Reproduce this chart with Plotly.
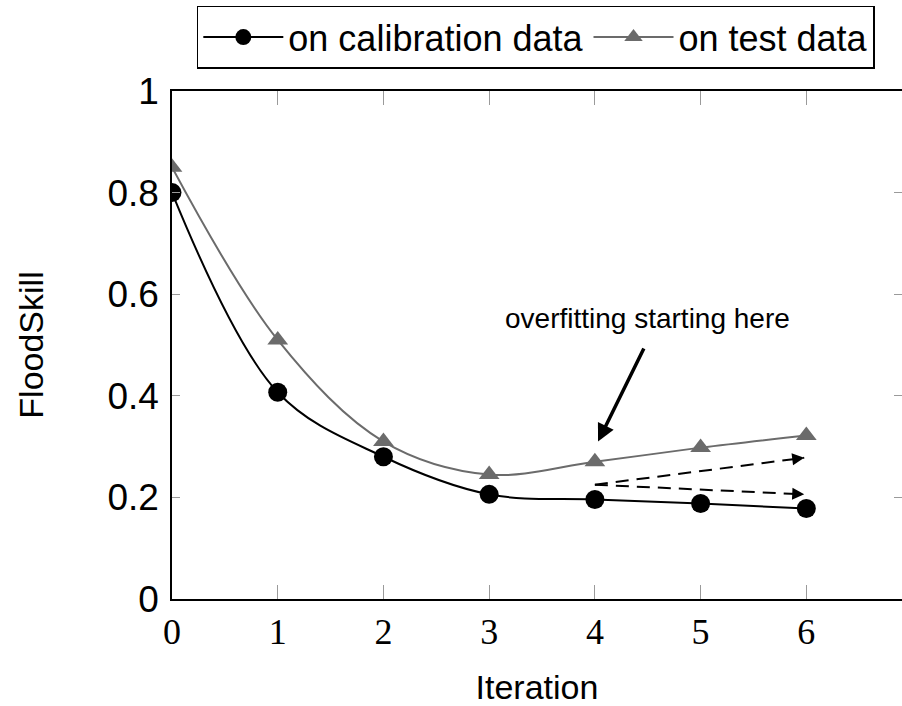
import plotly.graph_objects as go

# Iteration index and FloodSkill values
iterations = [0, 1, 2, 3, 4, 5, 6]
calibration_skill = [0.80, 0.407, 0.280, 0.206, 0.196, 0.188, 0.178]
test_skill = [0.85, 0.510, 0.310, 0.245, 0.270, 0.298, 0.322]

x_tick_vals = [0, 1, 2, 3, 4, 5, 6]
x_tick_text = ["0", "1", "2", "3", "4", "5", "6"]
y_tick_vals = [0, 0.2, 0.4, 0.6, 0.8, 1.0]
y_tick_text = ["0", "0.2", "0.4", "0.6", "0.8", "1"]

# Callout arrow (head on the test curve at iteration 4) and its label
callout_text = "overfitting starting here"
callout_label_pos = (4.5, 0.553)
callout_tail = (4.47, 0.496)
callout_head = (4.03, 0.31)

# Dashed trend arrows starting at iteration 4
trend_start = (4.0, 0.225)
trend_ends = [(5.98, 0.278), (5.98, 0.206)]

SANS = "Liberation Sans, Arial, sans-serif"
SERIF = "Liberation Serif, Times New Roman, serif"
GREY = "#6b6b6b"
TICK_GREY = "#9a9a9a"

fig = go.Figure()

fig.add_trace(go.Scatter(
    x=iterations, y=calibration_skill, name="on calibration data",
    mode="lines+markers",
    line=dict(color="black", width=2, shape="spline", smoothing=1.0),
    marker=dict(symbol="circle", size=19, color="black"),
))
fig.add_trace(go.Scatter(
    x=iterations, y=test_skill, name="on test data",
    mode="lines+markers",
    line=dict(color=GREY, width=2, shape="spline", smoothing=1.0),
    marker=dict(symbol="triangle-up", size=18, color=GREY),
))

# dashed shafts of the trend arrows
for end in trend_ends:
    fig.add_trace(go.Scatter(
        x=[trend_start[0], end[0]], y=[trend_start[1], end[1]],
        mode="lines", showlegend=False, hoverinfo="skip",
        line=dict(color="black", width=2, dash="13px,8px"),
    ))

# right-hand mirror ticks (the right border itself lies outside the view)
fig.add_trace(go.Scatter(x=[None], y=[None], yaxis="y2", showlegend=False))

annotations = [
    dict(x=callout_label_pos[0], y=callout_label_pos[1], text=callout_text,
         showarrow=False, font=dict(family=SANS, size=28, color="black")),
    dict(x=callout_head[0], y=callout_head[1], ax=callout_tail[0], ay=callout_tail[1],
         xref="x", yref="y", axref="x", ayref="y", text="", showarrow=True,
         arrowhead=2, arrowsize=1.0, arrowwidth=3.5, arrowcolor="black"),
]
for end in trend_ends:
    # short arrow segment that only contributes the head
    dx = end[0] - trend_start[0]
    dy = end[1] - trend_start[1]
    f = 0.06
    annotations.append(dict(
        x=end[0], y=end[1], ax=end[0] - f * dx, ay=end[1] - f * dy,
        xref="x", yref="y", axref="x", ayref="y", text="", showarrow=True,
        arrowhead=2, arrowsize=1.2, arrowwidth=2, arrowcolor="black"))

fig.update_layout(
    width=902, height=706,
    margin=dict(l=172, r=0, t=91, b=105),
    paper_bgcolor="white", plot_bgcolor="white",
    showlegend=True,
    legend=dict(
        orientation="h", x=0.034, y=1.168, xanchor="left", yanchor="top",
        bgcolor="white", bordercolor="black", borderwidth=1.5,
        font=dict(family=SANS, size=36, color="black"),
        itemsizing="trace", itemwidth=80,
    ),
    annotations=annotations,
    xaxis=dict(
        range=[0, 6.905], tickvals=x_tick_vals, ticktext=x_tick_text,
        showgrid=False, zeroline=False,
        showline=True, linecolor="black", linewidth=1.5, mirror="ticks",
        ticks="inside", ticklen=14, tickcolor=TICK_GREY, tickwidth=1,
        tickfont=dict(family=SERIF, size=36, color="black"),
        ticklabelstandoff=0,
        title=dict(text="Iteration", font=dict(family=SANS, size=34, color="black"),
                   standoff=30),
    ),
    yaxis=dict(
        range=[0, 1], tickvals=y_tick_vals, ticktext=y_tick_text,
        showgrid=False, zeroline=False,
        showline=True, linecolor="black", linewidth=1.5, mirror=False,
        ticks="inside", ticklen=8, tickcolor=TICK_GREY, tickwidth=1,
        tickfont=dict(family=SANS, size=37, color="black"),
        ticklabelstandoff=4,
        title=dict(text="FloodSkill", font=dict(family=SANS, size=34, color="black"),
                   standoff=54),
    ),
    yaxis2=dict(
        range=[0, 1], tickvals=y_tick_vals, overlaying="y", side="right",
        showgrid=False, zeroline=False, showline=False, showticklabels=False,
        ticks="inside", ticklen=8, tickcolor=TICK_GREY, tickwidth=1,
    ),
)

fig.write_html("out.html")
